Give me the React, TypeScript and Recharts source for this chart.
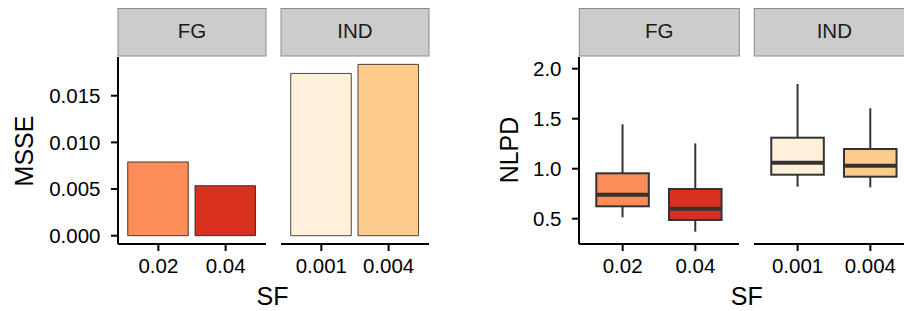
import React from 'react';
import { BarChart, Bar, XAxis, YAxis, Cell } from 'recharts';

const FONT = '"Liberation Sans", Arial, Helvetica, sans-serif';

// MSSE (bar chart)
const fgCats = ['0.02', '0.04'];
const indCats = ['0.001', '0.004'];
const msseFG = [0.0079, 0.00536];
const msseIND = [0.01739, 0.01836];
const fgColors = ['#FC8D59', '#D7301F'];
const indColors = ['#FEF0D9', '#FDCC8A'];
const msseTicks = [0, 0.005, 0.01, 0.015];

// NLPD (boxplots)
const nlpdFGMin = [0.513, 0.37];
const nlpdFGQ1 = [0.624, 0.487];
const nlpdFGMed = [0.739, 0.6];
const nlpdFGQ3 = [0.954, 0.797];
const nlpdFGMax = [1.444, 1.253];
const nlpdINDMin = [0.82, 0.813];
const nlpdINDQ1 = [0.94, 0.92];
const nlpdINDMed = [1.06, 1.03];
const nlpdINDQ3 = [1.31, 1.197];
const nlpdINDMax = [1.847, 1.604];
const nlpdTicks = [0.5, 1.0, 1.5, 2.0];

const msseDomain: [number, number] = [-0.00089, 0.01915];
const nlpdDomain: [number, number] = [0.247, 2.117];

const TOP = 57;
const BOTTOM = 244;
const XH = 60;

const barData = (cats: string[], vals: number[], colors: string[]) =>
  cats.map((c, i) => ({ sf: c, value: vals[i], fill: colors[i] }));

const boxData = (
  cats: string[], mn: number[], q1: number[], md: number[], q3: number[], mx: number[], colors: string[]
) =>
  cats.map((c, i) => ({ sf: c, min: mn[i], q1: q1[i], median: md[i], q3: q3[i], max: mx[i], fill: colors[i] }));

const tickStyle = { fill: '#000', fontSize: 20.5, fontFamily: FONT };
const axisLine = { stroke: '#000', strokeWidth: 2 };

const BoxShape = (props: any) => {
  const { x, y, width, height, payload } = props;
  const top = Math.min(y, y + height);
  const h = Math.abs(height);
  const { min, max, q1, median, q3, fill } = payload;
  const py = (v: number) => top + (h * (max - v)) / (max - min);
  const cx = x + width / 2;
  const s = '#333333';
  return (
    <g>
      <line x1={cx} x2={cx} y1={py(max)} y2={py(q3)} stroke={s} strokeWidth={2} />
      <line x1={cx} x2={cx} y1={py(q1)} y2={py(min)} stroke={s} strokeWidth={2} />
      <rect x={x + 1} y={py(q3)} width={width - 2} height={py(q1) - py(q3)} fill={fill} stroke={s} strokeWidth={2} />
      <line x1={x + 1} x2={x + width - 1} y1={py(median)} y2={py(median)} stroke={s} strokeWidth={4} />
    </g>
  );
};

type PanelProps = {
  left: number;
  right: number;
  yW: number;
  showY: boolean;
  kind: 'bar' | 'box';
  data: any[];
};

const Panel = ({ left, right, yW, showY, kind, data }: PanelProps) => {
  const W = right - left;
  const u = W / 2.2;
  const p = 0.1 * u;
  const w = showY ? W + yW : W;
  const chartLeft = showY ? left - yW : left;
  const domain = kind === 'bar' ? msseDomain : nlpdDomain;
  const ticks = kind === 'bar' ? msseTicks : nlpdTicks;
  return (
    <div style={{ position: 'absolute', left: chartLeft, top: TOP, width: w, height: BOTTOM - TOP + XH }}>
      <BarChart width={w} height={BOTTOM - TOP + XH} data={data} margin={{ top: 0, right: 0, bottom: 0, left: 0 }}>
        <XAxis
          dataKey="sf"
          type="category"
          padding={{ left: p, right: p }}
          height={XH}
          tick={tickStyle}
          tickSize={7}
          tickMargin={7}
          axisLine={axisLine}
          tickLine={axisLine}
          interval={0}
        />
        {showY ? (
          <YAxis
            type="number"
            domain={domain}
            allowDataOverflow
            ticks={ticks}
            width={yW}
            tick={tickStyle}
            tickSize={7}
            tickMargin={10.5}
            axisLine={axisLine}
            tickLine={axisLine}
            tickFormatter={(v: number) => (kind === 'bar' ? v.toFixed(3) : v.toFixed(1))}
          />
        ) : (
          <YAxis type="number" domain={domain} allowDataOverflow ticks={ticks} hide />
        )}
        {kind === 'bar' ? (
          <Bar dataKey="value" barSize={0.9 * u} stroke="#1a1a1a" strokeWidth={0.8} isAnimationActive={false}>
            {data.map((d, i) => (
              <Cell key={i} fill={d.fill} />
            ))}
          </Bar>
        ) : (
          <Bar
            dataKey={(d: any) => [d.min, d.max]}
            barSize={0.75 * u}
            shape={BoxShape}
            isAnimationActive={false}
          />
        )}
      </BarChart>
    </div>
  );
};

const Strip = ({ left, right, label }: { left: number; right: number; label: string }) => (
  <g>
    <rect x={left} y={8.5} width={right - left} height={47.5} fill="#CCCCCC" stroke="#8c8c8c" strokeWidth={1} />
    <text x={(left + right) / 2} y={37.7} textAnchor="middle" fontSize={20.5} fontFamily={FONT} fill="#1a1a1a">
      {label}
    </text>
  </g>
);

export default function App() {
  const L1 = 118, R1 = 266, L2 = 281, R2 = 429;
  const L3 = 579.3, R3 = 739.3, L4 = 754.3, R4 = 914.3;
  return (
    <div style={{ position: 'absolute', left: 0, top: 0, width: 904, height: 311, background: '#fff', overflow: 'hidden' }}>
      <svg width={904} height={311} style={{ position: 'absolute', left: 0, top: 0 }}>
        <Strip left={L1} right={R1} label="FG" />
        <Strip left={L2} right={R2} label="IND" />
        <Strip left={L3} right={R3} label="FG" />
        <Strip left={L4} right={R4} label="IND" />
        <text x={33.3} y={151} transform="rotate(-90 33.3 151)" textAnchor="middle" fontSize={25} fontFamily={FONT} fill="#000">
          MSSE
        </text>
        <text x={272.5} y={305} textAnchor="middle" fontSize={25} fontFamily={FONT} fill="#000">
          SF
        </text>
        <text x={518.3} y={150} transform="rotate(-90 518.3 150)" textAnchor="middle" fontSize={25} fontFamily={FONT} fill="#000">
          NLPD
        </text>
        <text x={746.7} y={305} textAnchor="middle" fontSize={25} fontFamily={FONT} fill="#000">
          SF
        </text>
      </svg>
      <Panel left={L1} right={R1} yW={100} showY kind="bar" data={barData(fgCats, msseFG, fgColors)} />
      <Panel left={L2} right={R2} yW={0} showY={false} kind="bar" data={barData(indCats, msseIND, indColors)} />
      <Panel
        left={L3}
        right={R3}
        yW={120}
        showY
        kind="box"
        data={boxData(fgCats, nlpdFGMin, nlpdFGQ1, nlpdFGMed, nlpdFGQ3, nlpdFGMax, fgColors)}
      />
      <Panel
        left={L4}
        right={R4}
        yW={0}
        showY={false}
        kind="box"
        data={boxData(indCats, nlpdINDMin, nlpdINDQ1, nlpdINDMed, nlpdINDQ3, nlpdINDMax, indColors)}
      />
    </div>
  );
}
